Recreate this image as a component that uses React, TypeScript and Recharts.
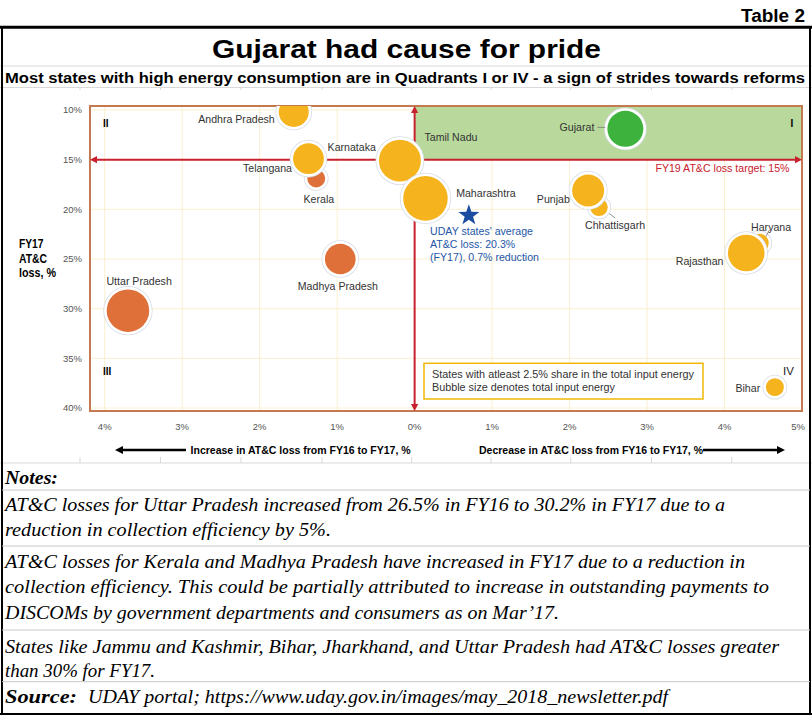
import React from 'react'
import { ScatterChart, Scatter, XAxis, YAxis, ZAxis, CartesianGrid, ReferenceArea, ReferenceLine } from 'recharts'

// states in drawing order (later ones sit on top)
const states = ['Uttar Pradesh', 'Madhya Pradesh', 'Kerala', 'Tamil Nadu', 'Karnataka', 'Maharashtra', 'Andhra Pradesh', 'Telangana', 'Chhattisgarh', 'Punjab', 'Haryana', 'Rajasthan', 'Bihar', 'Gujarat']
// decrease in AT&C loss FY16 -> FY17, % points (negative = increase)
const lossReduction = [-3.7, -0.96, -1.27, -0.17, -0.19, 0.14, -1.56, -1.37, 2.38, 2.24, 4.45, 4.28, 4.65, 2.72]
// FY17 AT&C loss, %
const atcLoss = [30.2, 25.0, 16.9, 15.2, 15.1, 18.9, 10.2, 14.9, 19.8, 18.1, 23.4, 24.4, 37.9, 11.9]
// total input energy (relative)
const inputEnergy = [113, 59, 20, 88, 110, 124, 56, 59, 19, 64, 22, 84, 20, 81]
const status = ['worse', 'worse', 'worse', 'other', 'other', 'other', 'other', 'other', 'other', 'other', 'other', 'other', 'other', 'target']

const udayAverage = [{ x: 0.7, y: 20.6 }]
const udayText = ["UDAY states' average", 'AT&C loss: 20.3%', '(FY17), 0.7% reduction']

const xTicks = [-4, -3, -2, -1, 0, 1, 2, 3, 4, 5]
const yTicks = [10, 15, 20, 25, 30, 35, 40]

const noteLines = [
  'AT&C losses for Uttar Pradesh increased from 26.5% in FY16 to 30.2% in FY17 due to a',
  'reduction in collection efficiency by 5%.',
  'AT&C losses for Kerala and Madhya Pradesh have increased in FY17 due to a reduction in',
  'collection efficiency. This could be partially attributed to increase in outstanding payments to',
  'DISCOMs by government departments and consumers as on Mar\u201917.',
  'States like Jammu and Kashmir, Bihar, Jharkhand, and Uttar Pradesh had AT&C losses greater',
  'than 30% for FY17.',
]
const noteLayout = [
  { y: 510.5, len: 720 },
  { y: 536, len: 326 },
  { y: 567.5, len: 740 },
  { y: 592.5, len: 764 },
  { y: 618.5, len: 554 },
  { y: 653, len: 774 },
  { y: 676.5, len: 150 },
]

const COLORS: Record<string, string> = { worse: '#E0703A', other: '#F5B31E', target: '#3DB33D' }
const SANS = 'Liberation Sans, Arial, sans-serif'
const SERIF = 'Liberation Serif, Times New Roman, serif'
const RED = '#C8202E'

const labelPos: Record<string, { dx: number; dy: number; anchor: 'start' | 'middle' | 'end'; leader?: number[] }> = {
  'Andhra Pradesh': { dx: -19, dy: 11.5, anchor: 'end' },
  Telangana: { dx: -16.5, dy: 13.3, anchor: 'end' },
  Kerala: { dx: 2.6, dy: 24, anchor: 'middle' },
  Karnataka: { dx: -24, dy: -9.3, anchor: 'end' },
  'Tamil Nadu': { dx: 23, dy: -21, anchor: 'start' },
  Maharashtra: { dx: 30.7, dy: -1.6, anchor: 'start' },
  'Madhya Pradesh': { dx: -2.4, dy: 30.7, anchor: 'middle' },
  'Uttar Pradesh': { dx: -21.5, dy: -26, anchor: 'start' },
  Gujarat: { dx: -31, dy: 2.4, anchor: 'end', leader: [-28, -1.5, -20, -1.5] },
  Punjab: { dx: -18.3, dy: 13, anchor: 'end' },
  Chhattisgarh: { dx: -14, dy: 22, anchor: 'start', leader: [10.3, 6.3, 16.3, 10.7] },
  Haryana: { dx: -8.3, dy: -12, anchor: 'start', leader: [10, -13.3, 6.7, -6.6] },
  Rajasthan: { dx: -22.7, dy: 11.7, anchor: 'end' },
  Bihar: { dx: -14.7, dy: 5, anchor: 'end' },
}

const points = states.map((name, i) => ({
  name,
  x: lossReduction[i],
  y: atcLoss[i],
  z: inputEnergy[i],
  status: status[i],
}))

function Bubble(props: any) {
  const { cx, cy, fill, payload } = props
  const r = props.width ? props.width / 2 : Math.sqrt((props.size || 0) / Math.PI)
  const lp = labelPos[payload.name]
  return (
    <g>
      <circle cx={cx} cy={cy} r={r + 3.4} fill="#D6DDE6" />
      <circle cx={cx} cy={cy} r={r + 2.6} fill="#fff" />
      <circle cx={cx} cy={cy} r={r} fill={fill} />
      {lp && lp.leader && (
        <line x1={cx + lp.leader[0]} y1={cy + lp.leader[1]} x2={cx + lp.leader[2]} y2={cy + lp.leader[3]} stroke="#777" strokeWidth={0.8} />
      )}
      {lp && (
        <text x={cx + lp.dx} y={cy + lp.dy} textAnchor={lp.anchor} fontSize={10.6} fill="#333" fontFamily={SANS}>
          {payload.name}
        </text>
      )}
    </g>
  )
}

function Star(props: any) {
  const { cx, cy, fill } = props
  const R = 11
  const ri = R * 0.4
  const pts: string[] = []
  for (let k = 0; k < 10; k++) {
    const rad = k % 2 === 0 ? R : ri
    const a = -Math.PI / 2 + (k * Math.PI) / 5
    pts.push(`${cx + rad * Math.cos(a)},${cy + rad * Math.sin(a)}`)
  }
  return (
    <g>
      <polygon points={pts.join(' ')} fill={fill} />
      {udayText.map((t, i) => (
        <text key={i} x={cx - 38.8} y={cy + 20 + i * 13} fontSize={10.6} fill="#2456A8" fontFamily={SANS}>
          {t}
        </text>
      ))}
    </g>
  )
}

function ArrowLine(props: any) {
  const { x1, y1, x2, y2 } = props
  const len = Math.hypot(x2 - x1, y2 - y1) || 1
  const ux = (x2 - x1) / len
  const uy = (y2 - y1) / len
  const head = (tx: number, ty: number, dx: number, dy: number) => {
    const bx = tx - dx * 7
    const by = ty - dy * 7
    return `${tx},${ty} ${bx - dy * 3.6},${by + dx * 3.6} ${bx + dy * 3.6},${by - dx * 3.6}`
  }
  return (
    <g>
      <line x1={x1 + ux * 5} y1={y1 + uy * 5} x2={x2 - ux * 5} y2={y2 - uy * 5} stroke={RED} strokeWidth={2} />
      <polygon points={head(x2, y2, ux, uy)} fill={RED} />
      <polygon points={head(x1, y1, -ux, -uy)} fill={RED} />
    </g>
  )
}

function XTick(props: any) {
  const { x, y, payload } = props
  const v = payload.value
  return (
    <text x={x + (v === 5 ? -4 : 0)} y={y + 19.3} textAnchor="middle" fontSize={9.5} fill="#555" fontFamily={SANS}>
      {Math.abs(v)}%
    </text>
  )
}

function YTick(props: any) {
  const { x, y, payload } = props
  return (
    <text x={x - 8} y={y + 3.3} textAnchor="end" fontSize={9.5} fill="#555" fontFamily={SANS}>
      {payload.value}%
    </text>
  )
}

const gridCols = [80, 160.5, 241, 322, 411.7, 491, 570.7, 651.5, 731.8]

export default function App() {
  return (
    <div style={{ position: 'absolute', left: 0, top: 0, width: 812, height: 716, background: '#fff', overflow: 'hidden' }}>
      {/* sheet grid + frame */}
      <svg width={812} height={716} style={{ position: 'absolute', left: 0, top: 0 }}>
        {gridCols.map((gx) => (
          <line key={gx} x1={gx} y1={87.5} x2={gx} y2={463} stroke="#D9D9D9" strokeWidth={1} />
        ))}
        <line x1={0} y1={66} x2={812} y2={66} stroke="#D9D9D9" />
        <line x1={0} y1={87.5} x2={812} y2={87.5} stroke="#D9D9D9" />
        <line x1={0} y1={463} x2={812} y2={463} stroke="#D9D9D9" />
      </svg>
      <div style={{ position: 'absolute', left: 3, top: 90, width: 803, height: 367, background: '#fff' }} />

      <div style={{ position: 'absolute', left: 0, top: 88 }}>
        <ScatterChart width={812} height={370} margin={{ top: 18, right: 10, bottom: 17, left: 28 }}>
          <CartesianGrid stroke="#FAF0CF" strokeWidth={1} />
          <XAxis type="number" dataKey="x" domain={[-4.19, 5]} ticks={xTicks} allowDataOverflow interval={0}
            axisLine={false} tickLine={false} tickSize={0} tickMargin={0} height={30} tick={(p: any) => <XTick {...p} />} />
          <YAxis type="number" dataKey="y" domain={[9.6, 40.3]} reversed ticks={yTicks} allowDataOverflow interval={0}
            axisLine={false} tickLine={false} tickSize={0} tickMargin={0} width={62} tick={(p: any) => <YTick {...p} />} />
          <ZAxis type="number" dataKey="z" domain={[0, 130]} range={[0, 4 * Math.PI * 130]} scale="linear" />
          <ReferenceArea x1={0} x2={5} y1={9.6} y2={15} fill="#B9D99C" fillOpacity={1} stroke="none" />
          <ReferenceArea x1={-4.19} x2={5} y1={9.6} y2={40.3} fill="none" stroke="#C47A50" strokeWidth={2} />
          <ReferenceLine y={15} shape={(p: any) => <ArrowLine {...p} />} />
          <ReferenceLine x={0} shape={(p: any) => <ArrowLine {...p} />} />
          <Scatter data={points.filter((p) => p.status === 'worse')} fill={COLORS.worse} shape={Bubble} isAnimationActive={false} />
          <Scatter data={points.filter((p) => p.status === 'other')} fill={COLORS.other} shape={Bubble} isAnimationActive={false} />
          <Scatter data={points.filter((p) => p.status === 'target')} fill={COLORS.target} shape={Bubble} isAnimationActive={false} />
          <Scatter data={udayAverage} fill="#1C4CA0" shape={Star} isAnimationActive={false} />
        </ScatterChart>
      </div>

      {/* annotations, titles, notes */}
      <svg width={812} height={716} style={{ position: 'absolute', left: 0, top: 0, pointerEvents: 'none' }}>
        <text x={805} y={22} textAnchor="end" fontSize={18} fontWeight="bold" fontFamily={SANS} textLength={64} lengthAdjust="spacingAndGlyphs">Table 2</text>
        <line x1={0} y1={27.3} x2={812} y2={27.3} stroke="#000" strokeWidth={3} />
        <line x1={2} y1={27} x2={2} y2={715} stroke="#000" strokeWidth={2} />
        <line x1={810} y1={27} x2={810} y2={715} stroke="#000" strokeWidth={2} />
        <line x1={0} y1={714} x2={812} y2={714} stroke="#000" strokeWidth={2} />
        <text x={212} y={58} fontSize={25.6} fontWeight="bold" fontFamily={SANS} textLength={389} lengthAdjust="spacingAndGlyphs">Gujarat had cause for pride</text>
        <text x={5} y={82.5} fontSize={14.5} fontWeight="bold" fontFamily={SANS} textLength={800} lengthAdjust="spacingAndGlyphs">
          Most states with high energy consumption are in Quadrants I or IV - a sign of strides towards reforms
        </text>

        {/* chart annotations */}
        <text x={103} y={127} fontSize={10} fontWeight="bold" fontFamily={SANS}>II</text>
        <text x={103} y={375} fontSize={10} fontWeight="bold" fontFamily={SANS}>III</text>
        <text x={790.5} y={127} fontSize={10} fontWeight="bold" fontFamily={SANS}>I</text>
        <text x={783} y={375} fontSize={11.5} fontFamily={SANS} fill="#222">IV</text>
        <text x={789.5} y={171.5} textAnchor="end" fontSize={10.6} fill={RED} fontFamily={SANS}>FY19 AT&amp;C loss target: 15%</text>
        <rect x={424} y={363.3} width={279} height={35.7} fill="#fff" stroke="#F2B705" strokeWidth={1.5} />
        <text x={432} y={377.5} fontSize={10.6} fill="#333" fontFamily={SANS} textLength={262} lengthAdjust="spacingAndGlyphs">States with atleast 2.5% share in the total input energy</text>
        <text x={432} y={390.5} fontSize={10.6} fill="#333" fontFamily={SANS} textLength={183} lengthAdjust="spacingAndGlyphs">Bubble size denotes total input energy</text>

        <text x={19} y={247.5} fontSize={12} fontWeight="bold" fontFamily={SANS} textLength={24.5} lengthAdjust="spacingAndGlyphs">FY17</text>
        <text x={19} y={262.5} fontSize={12} fontWeight="bold" fontFamily={SANS} textLength={28} lengthAdjust="spacingAndGlyphs">AT&amp;C</text>
        <text x={19} y={277} fontSize={12} fontWeight="bold" fontFamily={SANS} textLength={37} lengthAdjust="spacingAndGlyphs">loss, %</text>

        <line x1={121} y1={450} x2={186} y2={450} stroke="#000" strokeWidth={2.5} />
        <polygon points="115,450 123,446 123,454" fill="#000" />
        <text x={190.6} y={454} fontSize={11} fontWeight="bold" fontFamily={SANS} textLength={220} lengthAdjust="spacingAndGlyphs">Increase in AT&amp;C loss from FY16 to FY17, %</text>
        <text x={479} y={454} fontSize={11} fontWeight="bold" fontFamily={SANS} textLength={224} lengthAdjust="spacingAndGlyphs">Decrease in AT&amp;C loss from FY16 to FY17, %</text>
        <line x1={703} y1={450} x2={779} y2={450} stroke="#000" strokeWidth={2.5} />
        <polygon points="785,450 777,446 777,454" fill="#000" />

        {/* notes */}
        <line x1={2} y1={490} x2={810} y2={490} stroke="#C8C8C8" />
        <line x1={2} y1={546} x2={810} y2={546} stroke="#C8C8C8" />
        <line x1={2} y1={630} x2={810} y2={630} stroke="#C8C8C8" />
        <line x1={2} y1={681.7} x2={810} y2={681.7} stroke="#C8C8C8" />
        <text x={5} y={484} fontSize={18} fontWeight="bold" fontStyle="italic" fontFamily={SERIF} textLength={53} lengthAdjust="spacingAndGlyphs">Notes:</text>
        {noteLines.map((t, i) => (
          <text key={i} x={5} y={noteLayout[i].y} fontSize={18} fontStyle="italic" fontFamily={SERIF} textLength={noteLayout[i].len} lengthAdjust="spacingAndGlyphs">
            {t}
          </text>
        ))}
        <text x={5} y={703} fontSize={18} fontWeight="bold" fontStyle="italic" fontFamily={SERIF} textLength={72} lengthAdjust="spacingAndGlyphs">Source:</text>
        <text x={88} y={703} fontSize={18} fontStyle="italic" fontFamily={SERIF} textLength={580} lengthAdjust="spacingAndGlyphs">UDAY portal; https://www.uday.gov.in/images/may_2018_newsletter.pdf</text>
      </svg>
    </div>
  )
}
